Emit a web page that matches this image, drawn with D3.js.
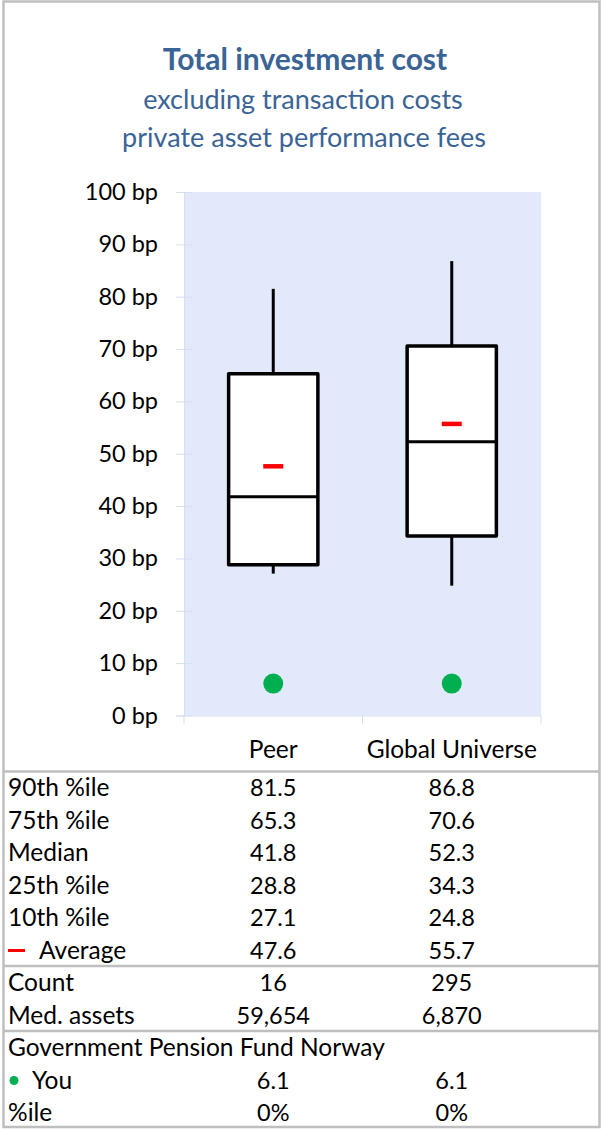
<!DOCTYPE html>
<html><head><meta charset="utf-8">
<script src="https://cdn.jsdelivr.net/npm/d3@7"></script>
<style>
html,body{margin:0;padding:0;background:#fff;}
svg{display:block;font-family:Lato, "Open Sans", sans-serif;}
</style></head>
<body>
<svg id="chart" width="602" height="1129"></svg>
<script>
const categories = ["Peer", "Global Universe"];
const p90 = [81.5, 86.8];
const p75 = [65.3, 70.6];
const median = [41.8, 52.3];
const p25 = [28.8, 34.3];
const p10 = [27.1, 24.8];
const average = [47.6, 55.7];
const count = [16, 295];
const medAssets = [59654, 6870];
const you = [6.1, 6.1];
const youPct = ["0%", "0%"];
const yTicks = [0, 10, 20, 30, 40, 50, 60, 70, 80, 90, 100];
const titleLines = ["Total investment cost", "excluding transaction costs", "private asset performance fees"];
const fundName = "Government Pension Fund Norway";

const svg = d3.select("#chart");
const titleColor = "#3b6496";
const fsLabel = 24.5;
const fsNum = 23.5;

// Title
svg.append("text").attr("x", 305).attr("y", 70).attr("text-anchor", "middle")
  .attr("font-weight", "bold").attr("font-size", 30).attr("fill", titleColor).text(titleLines[0]);
svg.append("text").attr("x", 303).attr("y", 109).attr("text-anchor", "middle")
  .attr("font-size", 27).attr("fill", titleColor).text(titleLines[1]);
svg.append("text").attr("x", 304).attr("y", 147).attr("text-anchor", "middle")
  .attr("font-size", 27).attr("fill", titleColor).text(titleLines[2]);

// Scales
const y = d3.scaleLinear().domain([0, 100]).range([715.5, 192]);
const x = d3.scaleBand().domain(categories).range([184, 541]).padding(0);
const bw = x.bandwidth();
const cx = c => x(c) + bw / 2;

// Plot background
svg.append("rect").attr("x", 184).attr("y", y(100)).attr("width", 541 - 184)
  .attr("height", y(0) - y(100)).attr("fill", "#e2e9fb");

// Y axis
const yAxis = d3.axisLeft(y).tickValues(yTicks).tickSize(8).tickPadding(18)
  .tickFormat(d => d + " bp");
const gy = svg.append("g").attr("transform", "translate(184,0)").call(yAxis);
gy.select(".domain").attr("stroke", "#d6def0");
gy.selectAll(".tick line").attr("stroke", "#d6def0").attr("x2", -8).attr("x1", 8);
gy.selectAll(".tick text").attr("font-size", fsNum).attr("fill", "#000")
  .attr("font-family", "Lato, sans-serif").attr("x", -26);

// X axis
const xAxis = d3.axisBottom(x).tickSize(0).tickFormat("");
const gx = svg.append("g").attr("transform", `translate(0,${y(0)})`).call(xAxis);
gx.select(".domain").attr("stroke", "#d6def0");
const bounds = [184].concat(categories.map(c => x(c) + bw));
svg.selectAll(".xtick").data(bounds).join("line")
  .attr("x1", d => d).attr("x2", d => d).attr("y1", y(0)).attr("y2", y(0) + 8)
  .attr("stroke", "#d6def0");
svg.selectAll(".xlab").data(categories).join("text")
  .attr("x", d => cx(d)).attr("y", 758).attr("text-anchor", "middle")
  .attr("font-size", fsLabel).attr("fill", "#000").text(d => d);

// Boxes
const boxW = bw * 0.5;
categories.forEach((c, i) => {
  const g = svg.append("g");
  g.append("line").attr("x1", cx(c)).attr("x2", cx(c)).attr("y1", y(p90[i])).attr("y2", y(p75[i]))
    .attr("stroke", "#000").attr("stroke-width", 3);
  g.append("line").attr("x1", cx(c)).attr("x2", cx(c)).attr("y1", y(p25[i])).attr("y2", y(p10[i]))
    .attr("stroke", "#000").attr("stroke-width", 3);
  g.append("rect").attr("x", cx(c) - boxW / 2).attr("y", y(p75[i])).attr("width", boxW)
    .attr("height", y(p25[i]) - y(p75[i])).attr("fill", "#fff").attr("stroke", "#000")
    .attr("stroke-width", 3.5).attr("stroke-linejoin", "round");
  g.append("line").attr("x1", cx(c) - boxW / 2).attr("x2", cx(c) + boxW / 2)
    .attr("y1", y(median[i])).attr("y2", y(median[i])).attr("stroke", "#000").attr("stroke-width", 3);
  g.append("line").attr("x1", cx(c) - 10).attr("x2", cx(c) + 10)
    .attr("y1", y(average[i])).attr("y2", y(average[i])).attr("stroke", "#ff0000").attr("stroke-width", 4.5);
  g.append("circle").attr("cx", cx(c)).attr("cy", y(you[i])).attr("r", 10).attr("fill", "#00b050");
});

// Table
const fmt = d3.format(",");
const rows = [
  {label: "90th %ile", vals: p90.map(d => d.toFixed(1))},
  {label: "75th %ile", vals: p75.map(d => d.toFixed(1))},
  {label: "Median", vals: median.map(d => d.toFixed(1))},
  {label: "25th %ile", vals: p25.map(d => d.toFixed(1))},
  {label: "10th %ile", vals: p10.map(d => d.toFixed(1))},
  {label: "Average", vals: average.map(d => d.toFixed(1)), mark: "avg"},
  {label: "Count", vals: count.map(d => fmt(d))},
  {label: "Med. assets", vals: medAssets.map(d => fmt(d))},
  {label: fundName, vals: ["", ""]},
  {label: "You", vals: you.map(d => d.toFixed(1)), mark: "you"},
  {label: "%ile", vals: youPct}
];
const rowCenters = [788, 820.5, 853, 885.5, 918, 950.5, 983, 1015.5, 1048, 1080.5, 1113];
rows.forEach((r, i) => {
  const yc = rowCenters[i];
  let lx = 8;
  if (r.mark === "avg") {
    svg.append("line").attr("x1", 8).attr("x2", 25).attr("y1", yc).attr("y2", yc)
      .attr("stroke", "#ff0000").attr("stroke-width", 3);
    lx = 39;
  }
  if (r.mark === "you") {
    svg.append("circle").attr("cx", 14).attr("cy", yc).attr("r", 4.5).attr("fill", "#00b050");
    lx = 32;
  }
  svg.append("text").attr("x", lx).attr("y", yc + 8).attr("font-size", fsLabel).attr("fill", "#000").text(r.label);
  categories.forEach((c, j) => {
    if (r.vals[j] === "") return;
    svg.append("text").attr("x", cx(c)).attr("y", yc + 8).attr("text-anchor", "middle")
      .attr("font-size", fsNum).attr("fill", "#000").text(r.vals[j]);
  });
});

// Separators and border
const lineColor = "#bfbfbf";
[771.5, 966, 1031].forEach(yy => {
  svg.append("line").attr("x1", 3).attr("x2", 600).attr("y1", yy).attr("y2", yy)
    .attr("stroke", lineColor).attr("stroke-width", 2.5);
});
svg.append("rect").attr("x", 3.5).attr("y", 1.5).attr("width", 596).attr("height", 1125.5)
  .attr("fill", "none").attr("stroke", lineColor).attr("stroke-width", 2.5);
</script>
</body></html>
